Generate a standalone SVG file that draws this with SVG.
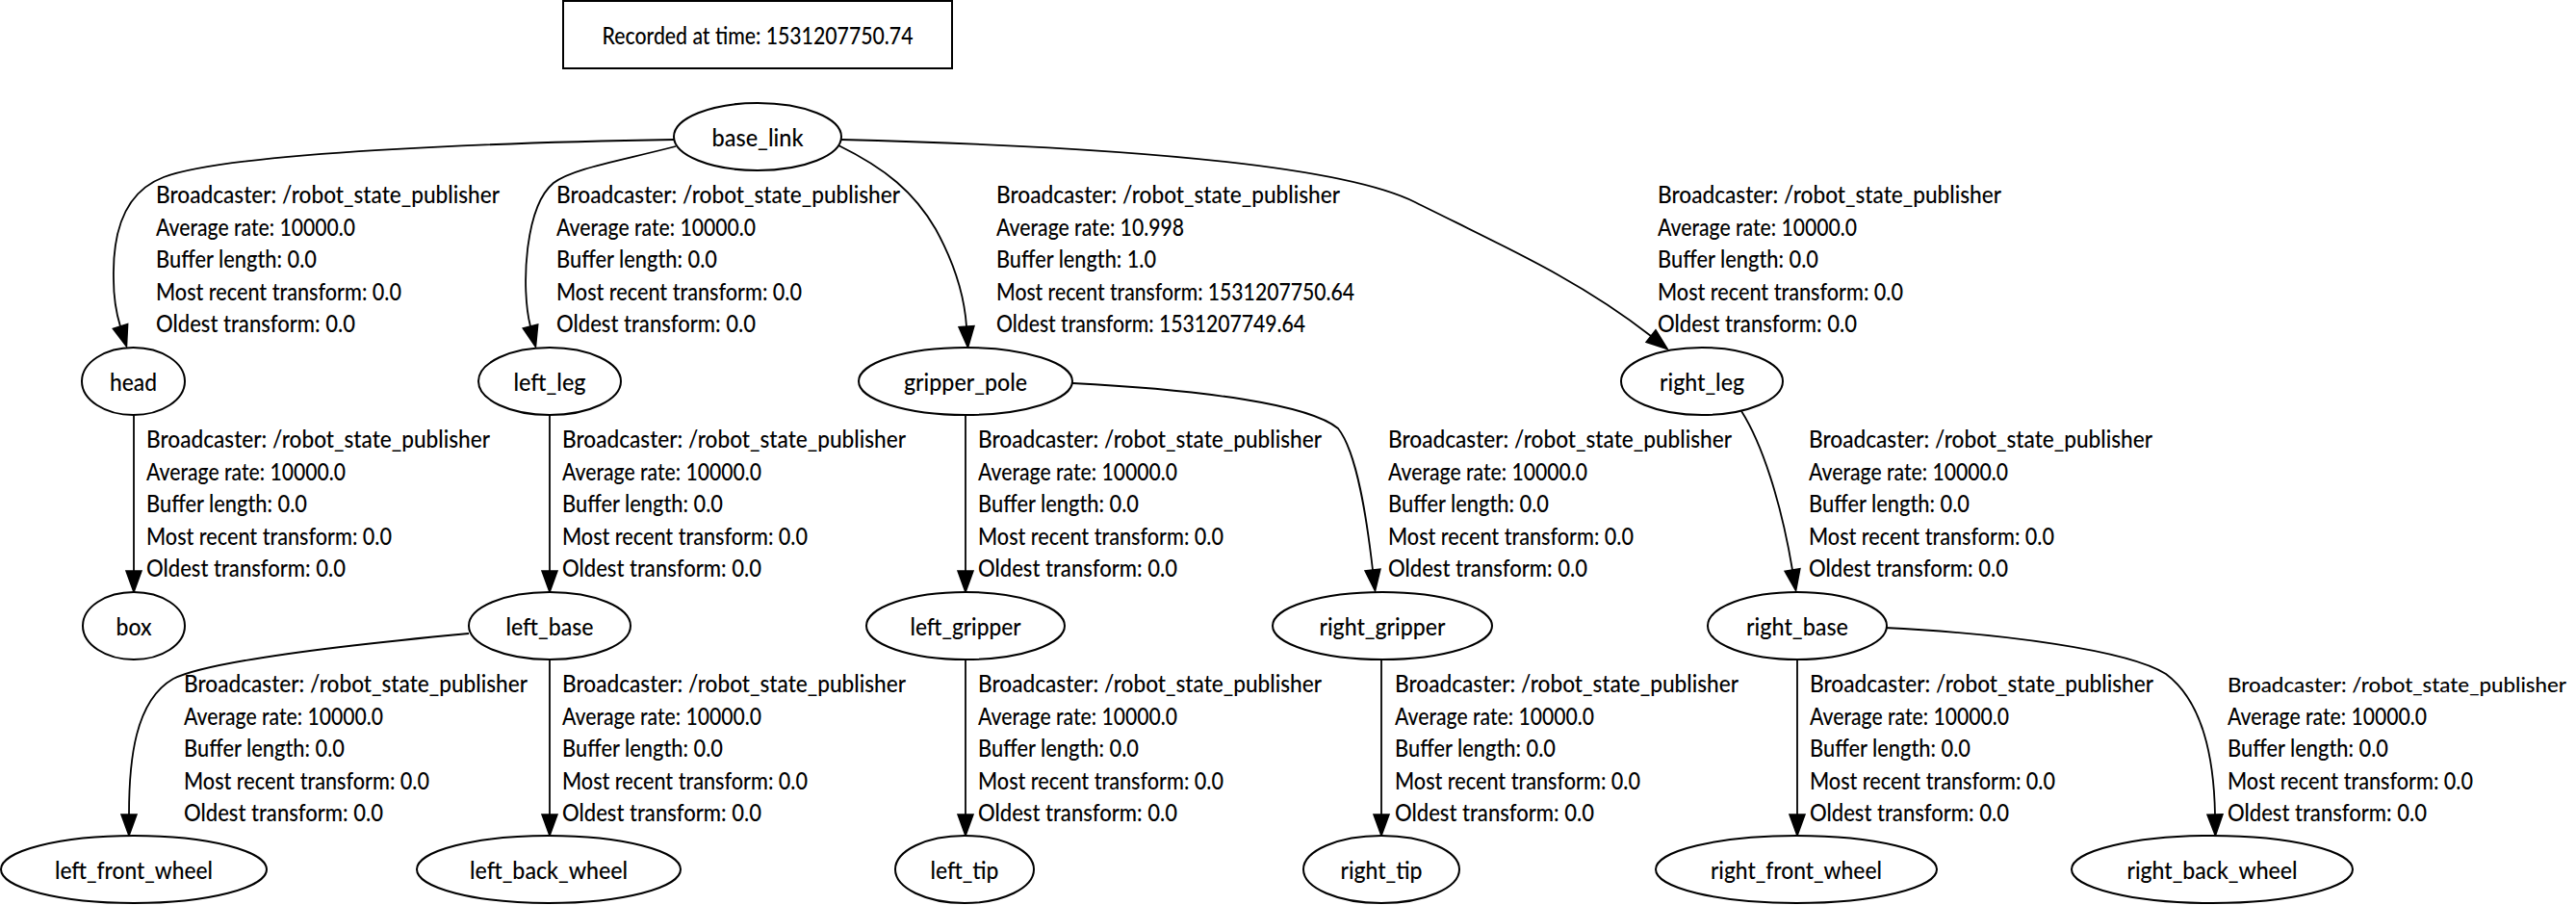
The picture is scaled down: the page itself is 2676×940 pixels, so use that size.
<svg xmlns="http://www.w3.org/2000/svg" width="2676" height="940" viewBox="0 0 2676 940">
<defs>
<style>
text{font-family:Lato,"Liberation Sans","Noto Sans",sans-serif;font-size:24px;font-weight:500;fill:#000}
.node ellipse,.title rect{fill:#fff;stroke:#000;stroke-width:2}
.node text,.title text{text-anchor:middle}
.lbl text{text-anchor:start}
.edges path{fill:none;stroke:#000;stroke-width:1.8;marker-end:url(#ah)}
</style>
<marker id="ah" markerUnits="userSpaceOnUse" viewBox="0 0 22 16" markerWidth="22" markerHeight="16" refX="0" refY="8" orient="auto" overflow="visible">
<path d="M0,0 L22,8 L0,16 Z" fill="#000" stroke="#000" stroke-width="1.5" stroke-linejoin="miter"/>
</marker>
</defs>
<rect width="2676" height="940" fill="#fff"/>

<g id="title" class="title">
<rect x="585" y="1" width="404" height="70"/>
<text x="787" y="46" textLength="323" lengthAdjust="spacingAndGlyphs">Recorded at time: 1531207750.74</text>
</g>

<g id="edges" class="edges">
<path id="e_base_head" d="M700,145 C520,148 240,158 170,184 C125,201 117,250 118,290 C118,312 121,326 125,339"/>
<path id="e_base_leftleg" d="M702,152 C640,168 595,175 575,190 C545,215 541,300 551,339"/>
<path id="e_base_gripper" d="M871,151 C920,175 950,200 972,238 C994,278 1002,310 1004,339"/>
<path id="e_base_rightleg" d="M874,145 C1150,152 1390,170 1470,210 C1560,255 1640,290 1715,349"/>
<path id="e_head_box" d="M139,431 V593"/>
<path id="e_leftleg_leftbase" d="M571,431 V593"/>
<path id="e_gripper_leftgripper" d="M1003,431 V593"/>
<path id="e_gripper_rightgripper" d="M1114,398 C1250,405 1360,420 1390,445 C1410,470 1420,540 1426,592"/>
<path id="e_rightleg_rightbase" d="M1809,427 C1830,460 1850,520 1862,592"/>
<path id="e_leftbase_lfw" d="M487,658 C380,668 220,685 180,705 C140,728 134,790 134,846"/>
<path id="e_leftbase_lbw" d="M571,685 V846"/>
<path id="e_leftgripper_lefttip" d="M1003,685 V846"/>
<path id="e_rightgripper_righttip" d="M1435,685 V846"/>
<path id="e_rightbase_rfw" d="M1867,685 V846"/>
<path id="e_rightbase_rbw" d="M1958,652 C2080,658 2210,675 2250,700 C2290,730 2300,790 2301,846"/>
</g>

<g id="edge-labels" class="lbl">
<text><tspan x="162" y="211" textLength="357" lengthAdjust="spacingAndGlyphs">Broadcaster: /robot_state_publisher</tspan><tspan x="162" y="244.5" textLength="207" lengthAdjust="spacingAndGlyphs">Average rate: 10000.0</tspan><tspan x="162" y="278" textLength="167" lengthAdjust="spacingAndGlyphs">Buffer length: 0.0</tspan><tspan x="162" y="311.5" textLength="255" lengthAdjust="spacingAndGlyphs">Most recent transform: 0.0</tspan><tspan x="162" y="345" textLength="207" lengthAdjust="spacingAndGlyphs">Oldest transform: 0.0</tspan></text>
<text><tspan x="578" y="211" textLength="357" lengthAdjust="spacingAndGlyphs">Broadcaster: /robot_state_publisher</tspan><tspan x="578" y="244.5" textLength="207" lengthAdjust="spacingAndGlyphs">Average rate: 10000.0</tspan><tspan x="578" y="278" textLength="167" lengthAdjust="spacingAndGlyphs">Buffer length: 0.0</tspan><tspan x="578" y="311.5" textLength="255" lengthAdjust="spacingAndGlyphs">Most recent transform: 0.0</tspan><tspan x="578" y="345" textLength="207" lengthAdjust="spacingAndGlyphs">Oldest transform: 0.0</tspan></text>
<text><tspan x="1035" y="211" textLength="357" lengthAdjust="spacingAndGlyphs">Broadcaster: /robot_state_publisher</tspan><tspan x="1035" y="244.5" textLength="195" lengthAdjust="spacingAndGlyphs">Average rate: 10.998</tspan><tspan x="1035" y="278" textLength="166" lengthAdjust="spacingAndGlyphs">Buffer length: 1.0</tspan><tspan x="1035" y="311.5" textLength="372" lengthAdjust="spacingAndGlyphs">Most recent transform: 1531207750.64</tspan><tspan x="1035" y="345" textLength="321" lengthAdjust="spacingAndGlyphs">Oldest transform: 1531207749.64</tspan></text>
<text><tspan x="1722" y="211" textLength="357" lengthAdjust="spacingAndGlyphs">Broadcaster: /robot_state_publisher</tspan><tspan x="1722" y="244.5" textLength="207" lengthAdjust="spacingAndGlyphs">Average rate: 10000.0</tspan><tspan x="1722" y="278" textLength="167" lengthAdjust="spacingAndGlyphs">Buffer length: 0.0</tspan><tspan x="1722" y="311.5" textLength="255" lengthAdjust="spacingAndGlyphs">Most recent transform: 0.0</tspan><tspan x="1722" y="345" textLength="207" lengthAdjust="spacingAndGlyphs">Oldest transform: 0.0</tspan></text>

<text><tspan x="152" y="465" textLength="357" lengthAdjust="spacingAndGlyphs">Broadcaster: /robot_state_publisher</tspan><tspan x="152" y="498.5" textLength="207" lengthAdjust="spacingAndGlyphs">Average rate: 10000.0</tspan><tspan x="152" y="532" textLength="167" lengthAdjust="spacingAndGlyphs">Buffer length: 0.0</tspan><tspan x="152" y="565.5" textLength="255" lengthAdjust="spacingAndGlyphs">Most recent transform: 0.0</tspan><tspan x="152" y="599" textLength="207" lengthAdjust="spacingAndGlyphs">Oldest transform: 0.0</tspan></text>
<text><tspan x="584" y="465" textLength="357" lengthAdjust="spacingAndGlyphs">Broadcaster: /robot_state_publisher</tspan><tspan x="584" y="498.5" textLength="207" lengthAdjust="spacingAndGlyphs">Average rate: 10000.0</tspan><tspan x="584" y="532" textLength="167" lengthAdjust="spacingAndGlyphs">Buffer length: 0.0</tspan><tspan x="584" y="565.5" textLength="255" lengthAdjust="spacingAndGlyphs">Most recent transform: 0.0</tspan><tspan x="584" y="599" textLength="207" lengthAdjust="spacingAndGlyphs">Oldest transform: 0.0</tspan></text>
<text><tspan x="1016" y="465" textLength="357" lengthAdjust="spacingAndGlyphs">Broadcaster: /robot_state_publisher</tspan><tspan x="1016" y="498.5" textLength="207" lengthAdjust="spacingAndGlyphs">Average rate: 10000.0</tspan><tspan x="1016" y="532" textLength="167" lengthAdjust="spacingAndGlyphs">Buffer length: 0.0</tspan><tspan x="1016" y="565.5" textLength="255" lengthAdjust="spacingAndGlyphs">Most recent transform: 0.0</tspan><tspan x="1016" y="599" textLength="207" lengthAdjust="spacingAndGlyphs">Oldest transform: 0.0</tspan></text>
<text><tspan x="1442" y="465" textLength="357" lengthAdjust="spacingAndGlyphs">Broadcaster: /robot_state_publisher</tspan><tspan x="1442" y="498.5" textLength="207" lengthAdjust="spacingAndGlyphs">Average rate: 10000.0</tspan><tspan x="1442" y="532" textLength="167" lengthAdjust="spacingAndGlyphs">Buffer length: 0.0</tspan><tspan x="1442" y="565.5" textLength="255" lengthAdjust="spacingAndGlyphs">Most recent transform: 0.0</tspan><tspan x="1442" y="599" textLength="207" lengthAdjust="spacingAndGlyphs">Oldest transform: 0.0</tspan></text>
<text><tspan x="1879" y="465" textLength="357" lengthAdjust="spacingAndGlyphs">Broadcaster: /robot_state_publisher</tspan><tspan x="1879" y="498.5" textLength="207" lengthAdjust="spacingAndGlyphs">Average rate: 10000.0</tspan><tspan x="1879" y="532" textLength="167" lengthAdjust="spacingAndGlyphs">Buffer length: 0.0</tspan><tspan x="1879" y="565.5" textLength="255" lengthAdjust="spacingAndGlyphs">Most recent transform: 0.0</tspan><tspan x="1879" y="599" textLength="207" lengthAdjust="spacingAndGlyphs">Oldest transform: 0.0</tspan></text>

<text><tspan x="191" y="719" textLength="357" lengthAdjust="spacingAndGlyphs">Broadcaster: /robot_state_publisher</tspan><tspan x="191" y="752.5" textLength="207" lengthAdjust="spacingAndGlyphs">Average rate: 10000.0</tspan><tspan x="191" y="786" textLength="167" lengthAdjust="spacingAndGlyphs">Buffer length: 0.0</tspan><tspan x="191" y="819.5" textLength="255" lengthAdjust="spacingAndGlyphs">Most recent transform: 0.0</tspan><tspan x="191" y="853" textLength="207" lengthAdjust="spacingAndGlyphs">Oldest transform: 0.0</tspan></text>
<text><tspan x="584" y="719" textLength="357" lengthAdjust="spacingAndGlyphs">Broadcaster: /robot_state_publisher</tspan><tspan x="584" y="752.5" textLength="207" lengthAdjust="spacingAndGlyphs">Average rate: 10000.0</tspan><tspan x="584" y="786" textLength="167" lengthAdjust="spacingAndGlyphs">Buffer length: 0.0</tspan><tspan x="584" y="819.5" textLength="255" lengthAdjust="spacingAndGlyphs">Most recent transform: 0.0</tspan><tspan x="584" y="853" textLength="207" lengthAdjust="spacingAndGlyphs">Oldest transform: 0.0</tspan></text>
<text><tspan x="1016" y="719" textLength="357" lengthAdjust="spacingAndGlyphs">Broadcaster: /robot_state_publisher</tspan><tspan x="1016" y="752.5" textLength="207" lengthAdjust="spacingAndGlyphs">Average rate: 10000.0</tspan><tspan x="1016" y="786" textLength="167" lengthAdjust="spacingAndGlyphs">Buffer length: 0.0</tspan><tspan x="1016" y="819.5" textLength="255" lengthAdjust="spacingAndGlyphs">Most recent transform: 0.0</tspan><tspan x="1016" y="853" textLength="207" lengthAdjust="spacingAndGlyphs">Oldest transform: 0.0</tspan></text>
<text><tspan x="1449" y="719" textLength="357" lengthAdjust="spacingAndGlyphs">Broadcaster: /robot_state_publisher</tspan><tspan x="1449" y="752.5" textLength="207" lengthAdjust="spacingAndGlyphs">Average rate: 10000.0</tspan><tspan x="1449" y="786" textLength="167" lengthAdjust="spacingAndGlyphs">Buffer length: 0.0</tspan><tspan x="1449" y="819.5" textLength="255" lengthAdjust="spacingAndGlyphs">Most recent transform: 0.0</tspan><tspan x="1449" y="853" textLength="207" lengthAdjust="spacingAndGlyphs">Oldest transform: 0.0</tspan></text>
<text><tspan x="1880" y="719" textLength="357" lengthAdjust="spacingAndGlyphs">Broadcaster: /robot_state_publisher</tspan><tspan x="1880" y="752.5" textLength="207" lengthAdjust="spacingAndGlyphs">Average rate: 10000.0</tspan><tspan x="1880" y="786" textLength="167" lengthAdjust="spacingAndGlyphs">Buffer length: 0.0</tspan><tspan x="1880" y="819.5" textLength="255" lengthAdjust="spacingAndGlyphs">Most recent transform: 0.0</tspan><tspan x="1880" y="853" textLength="207" lengthAdjust="spacingAndGlyphs">Oldest transform: 0.0</tspan></text>
<text><tspan x="2314" y="719" textLength="352" lengthAdjust="spacingAndGlyphs" style="font-size:22px">Broadcaster: /robot_state_publisher</tspan><tspan x="2314" y="752.5" textLength="207" lengthAdjust="spacingAndGlyphs">Average rate: 10000.0</tspan><tspan x="2314" y="786" textLength="167" lengthAdjust="spacingAndGlyphs">Buffer length: 0.0</tspan><tspan x="2314" y="819.5" textLength="255" lengthAdjust="spacingAndGlyphs">Most recent transform: 0.0</tspan><tspan x="2314" y="853" textLength="207" lengthAdjust="spacingAndGlyphs">Oldest transform: 0.0</tspan></text>
</g>

<g id="base_link" class="node"><ellipse cx="787" cy="142" rx="87" ry="35"/><text x="787" y="152" textLength="95" lengthAdjust="spacingAndGlyphs">base_link</text></g>
<g id="head" class="node"><ellipse cx="138.5" cy="396" rx="53.5" ry="35"/><text x="138.5" y="406" textLength="49" lengthAdjust="spacingAndGlyphs">head</text></g>
<g id="left_leg" class="node"><ellipse cx="571" cy="396" rx="74" ry="35"/><text x="571" y="406" textLength="75" lengthAdjust="spacingAndGlyphs">left_leg</text></g>
<g id="gripper_pole" class="node"><ellipse cx="1003" cy="396" rx="111" ry="35"/><text x="1003" y="406" textLength="128" lengthAdjust="spacingAndGlyphs">gripper_pole</text></g>
<g id="right_leg" class="node"><ellipse cx="1768" cy="396" rx="84" ry="35"/><text x="1768" y="406" textLength="88" lengthAdjust="spacingAndGlyphs">right_leg</text></g>
<g id="box" class="node"><ellipse cx="139" cy="650" rx="53" ry="35"/><text x="139" y="660" textLength="37" lengthAdjust="spacingAndGlyphs">box</text></g>
<g id="left_base" class="node"><ellipse cx="571" cy="650" rx="84" ry="35"/><text x="571" y="660" textLength="91" lengthAdjust="spacingAndGlyphs">left_base</text></g>
<g id="left_gripper" class="node"><ellipse cx="1003" cy="650" rx="103" ry="35"/><text x="1003" y="660" textLength="115" lengthAdjust="spacingAndGlyphs">left_gripper</text></g>
<g id="right_gripper" class="node"><ellipse cx="1436" cy="650" rx="114" ry="35"/><text x="1436" y="660" textLength="131" lengthAdjust="spacingAndGlyphs">right_gripper</text></g>
<g id="right_base" class="node"><ellipse cx="1867" cy="650" rx="93" ry="35"/><text x="1867" y="660" textLength="106" lengthAdjust="spacingAndGlyphs">right_base</text></g>
<g id="left_front_wheel" class="node"><ellipse cx="139" cy="903" rx="138" ry="35"/><text x="139" y="913" textLength="164" lengthAdjust="spacingAndGlyphs">left_front_wheel</text></g>
<g id="left_back_wheel" class="node"><ellipse cx="570" cy="903" rx="137" ry="35"/><text x="570" y="913" textLength="164" lengthAdjust="spacingAndGlyphs">left_back_wheel</text></g>
<g id="left_tip" class="node"><ellipse cx="1002" cy="903" rx="72" ry="35"/><text x="1002" y="913" textLength="71" lengthAdjust="spacingAndGlyphs">left_tip</text></g>
<g id="right_tip" class="node"><ellipse cx="1435" cy="903" rx="81" ry="35"/><text x="1435" y="913" textLength="85" lengthAdjust="spacingAndGlyphs">right_tip</text></g>
<g id="right_front_wheel" class="node"><ellipse cx="1866" cy="903" rx="146" ry="35"/><text x="1866" y="913" textLength="178" lengthAdjust="spacingAndGlyphs">right_front_wheel</text></g>
<g id="right_back_wheel" class="node"><ellipse cx="2298" cy="903" rx="146" ry="35"/><text x="2298" y="913" textLength="177" lengthAdjust="spacingAndGlyphs">right_back_wheel</text></g>
</svg>
